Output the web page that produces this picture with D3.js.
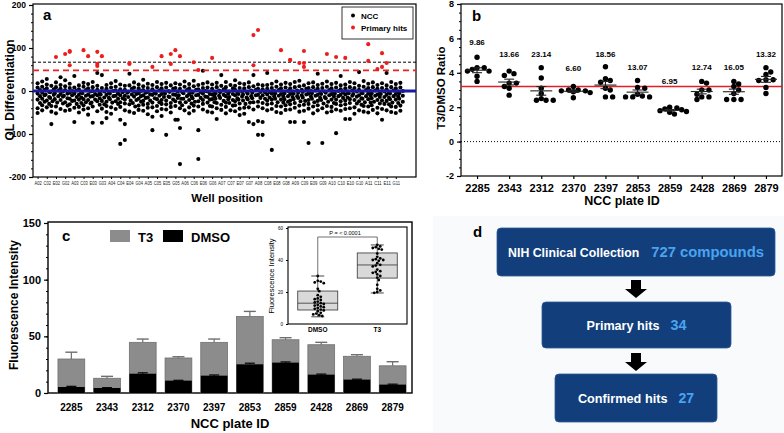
<!DOCTYPE html>
<html><head><meta charset="utf-8">
<script src="https://cdn.jsdelivr.net/npm/d3@7"></script>
<style>body{margin:0;background:#fff} text{font-family:"Liberation Sans",Arial,Helvetica,sans-serif}</style>
</head><body><svg id="fig" width="784" height="433"></svg>
<script>
// ================= DATA =================
// Panel a: well-position labels (every 2nd well) and OL differentiation per well (one value per plate)
const wellLabels = ["A02","C02","E02","G02","A03","C03","E03","G03","A04","C04","E04","G04","A05","C05","E05","G05","A06","C06","E06","G06","A07","C07","E07","G07","A08","C08","E08","G08","A09","C09","E09","G09","A10","C10","E10","G10","A11","C11","E11","G11"];
const nccValues = [
[-51,18,8,2,-6,-12,-20,-28,-40],[22,10,3,-4,-10,-18,-25,-33,-45],[15,6,-2,-8,-14,-22,-30,-38,28],[-77,12,4,-3,-9,-16,-24,-35,-48],
[20,9,1,-5,-12,-19,-27,-36,-52],[14,5,-1,-7,-13,-21,-29,-42,32],[25,11,2,-6,-11,-17,-26,-34,-46],[17,7,0,-4,-10,-18,-23,-31,-44],
[-72,35,8,1,-6,-14,-22,-30,-39],[13,4,-3,-9,-15,-20,-28,-37,-50],[19,10,2,-5,-11,-19,-26,-33,-43],[16,6,-1,-8,-13,-21,-29,-40,-55],
[-74,21,9,0,-7,-12,-20,-27,-36],[42,12,3,-4,-10,-17,-24,-32,-47],[-74,37,7,-1,-8,-15,-23,-31,-41],[-63,14,5,-2,-9,-16,-25,-35,-49],
[18,8,0,-6,-12,-19,-27,-38,-53],[23,10,1,-5,-11,-18,-24,-30,-42],[-123,-67,15,4,-3,-10,-17,-26,-37],[-114,-77,12,3,-4,-11,-20,-29,-45],
[40,13,5,-2,-8,-14,-22,-31,-48],[20,8,-1,-7,-13,-21,-28,-36,-51],[15,6,0,-5,-12,-18,-25,-34,-44],[26,11,2,-4,-10,-16,-23,-32,-46],
[17,7,-2,-8,-15,-22,-30,-39,-54],[-91,-60,14,4,-3,-9,-17,-27,-38],[21,9,1,-6,-11,-19,-26,-35,-47],[-58,16,6,-1,-7,-14,-21,-30,-42],
[-102,19,8,0,-6,-13,-22,-31,-43],[13,5,-2,-8,-14,-20,-28,-37,-50],[-67,-67,18,7,-1,-9,-16,-24,-35],[-170,-86,15,5,-3,-10,-18,-27,-40],
[22,10,2,-5,-12,-18,-26,-33,-45],[16,6,-1,-7,-13,-21,-29,-38,-52],[24,11,3,-4,-10,-17,-25,-34,-46],[-91,-158,14,4,-2,-9,-16,-24,-36],
[47,17,7,0,-6,-13,-21,-30,-43],[20,8,-1,-7,-14,-20,-27,-35,-48],[15,5,-2,-8,-12,-19,-26,-36,-50],[-65,19,9,1,-5,-11,-18,-28,-40],
[37,12,4,-3,-9,-16,-23,-32,-44],[21,9,0,-6,-12,-19,-27,-37,-52],[14,6,-1,-7,-14,-21,-28,-34,-45],[25,12,3,-4,-10,-17,-24,-33,-47],
[-56,18,7,-1,-7,-13,-20,-29,-41],[16,6,-2,-8,-15,-22,-30,-39,-53],[-72,20,9,1,-6,-12,-19,-27,-38],[-77,37,11,3,-4,-10,-17,-26,-43],
[-70,-102,15,5,-2,-9,-16,-25,-36],[-72,-102,13,4,-3,-10,-18,-28,-40],[42,14,5,-2,-8,-15,-22,-31,-45],[-137,17,7,0,-6,-12,-20,-29,-42],
[22,10,2,-5,-11,-18,-26,-35,-49],[15,6,-1,-7,-13,-20,-27,-36,-51],[19,8,0,-5,-12,-19,-25,-33,-44],[-72,16,6,-1,-7,-14,-22,-31,-43],
[-72,21,9,1,-6,-12,-19,-28,-39],[24,11,3,-4,-10,-16,-24,-34,-48],[-72,13,5,-2,-8,-15,-23,-32,-46],[-121,18,7,0,-6,-13,-21,-30,-41],
[20,9,1,-5,-11,-18,-26,-36,-52],[40,14,5,-2,-9,-16,-23,-33,-45],[-121,17,7,-1,-7,-14,-21,-29,-40],[22,10,2,-4,-10,-17,-25,-35,-50],
[16,6,-1,-7,-13,-20,-28,-37,-47],[-98,19,8,0,-6,-12,-20,-30,-43],[35,13,4,-3,-9,-16,-24,-33,-46],[-65,15,6,-1,-8,-15,-22,-31,-42],
[-65,21,9,1,-5,-11,-19,-28,-40],[18,7,-1,-7,-13,-21,-29,-38,-53],[44,12,3,-4,-10,-17,-24,-32,-45],[23,10,2,-5,-12,-18,-26,-35,-48],
[17,7,0,-6,-11,-19,-27,-36,-50],[20,9,1,-5,-11,-17,-25,-33,-44],[14,5,-2,-8,-14,-21,-29,-39,-52],[-67,18,7,-1,-7,-14,-22,-30,-42],
[42,13,4,-3,-9,-16,-23,-31,-45],[21,9,1,-6,-12,-19,-27,-36,-49],[16,6,-1,-7,-13,-20,-28,-37,-51],[19,8,0,-5,-11,-18,-25,-34,-46]
];
const hitWells  = [4,6,7,7,7,10,11,13,14,13,13,20,20,25,27,29,30,29,31,34,35,38,47,48,47,53,55,55,57,58,58,58,63,65,67,72,72,75,74,75,76];
const hitValues = [79,86,93,91,60,95,81,91,81,63,58,63,65,56,81,86,95,63,81,67,49,77,130,142,60,95,72,72,65,56,93,65,86,79,77,109,70,88,51,56,65];
const cutoffs = [67, 48]; // black dashed, red dashed

// Panel b
const plateIDs = ["2285","2343","2312","2370","2397","2853","2859","2428","2869","2879"];
const ratioValues = [
[4.3,4.1,4.9,4.2,4.3,3.5,3.8,4.1],
[4.1,3.85,3.95,3.4,3.2,3.1,2.7,3.4],
[4.3,3.7,3.1,2.8,2.4,2.4,2.4,2.5],
[3.2,2.95,2.9,3.0,2.55,2.85,3.0,2.95],
[4.35,3.55,3.45,3.65,3.0,2.6,2.6,3.1],
[3.55,3.15,3.1,2.75,2.6,2.6,2.6,2.65],
[1.95,1.85,1.75,2.0,1.7,1.6,1.8,1.9],
[3.5,3.4,3.0,3.0,2.6,2.45,2.6,2.75],
[3.5,3.35,3.2,3.0,2.8,2.45,2.45,2.45],
[4.3,4.05,3.9,3.6,3.6,3.15,2.8,3.55]
];
const ratioLabels = ["9.86","13.66","23.14","6.60","18.56","13.07","6.95","12.74","16.05","13.32"];
const ratioLabelLevel = [5.8,5.1,5.1,4.3,5.1,4.35,3.5,4.35,4.35,5.1];
const ratioRefLine = 3.2;

// Panel c
const t3Means   = [30,13,44.7,30.9,44.7,67.6,47,42.6,32.4,24];
const t3Err     = [6,1.7,2.9,1.1,2.9,4.4,1.8,2.1,1.4,3.6];
const dmsoMeans = [5.3,4.4,17,10.9,15.3,25.3,26.8,16.2,11.8,7.4];
const dmsoErr   = [0.6,0.3,0.8,0.3,0.6,1,0.6,0.5,0.4,0.4];
// inset
const insetGroups = ["DMSO","T3"];
const insetDMSO = [30,27,26.5,26,25.5,22,20.5,18,17,16,15.5,15,14,13.5,13,12.5,12,11.5,11,10.5,10,9.5,9,8.5,8,7,6.5,6,5.5,5];
const insetT3 = [49.5,48.5,48,47.5,47,46.5,44,42,41,40.5,40,40,39.5,38,37,36.5,36,34,33,32.5,32,31,30,29,27.5,24.5,22,21,20,19.5];
const insetBoxDMSO = [4.5,8.75,13,20.6,30];   // min,q1,median,q3,max
const insetBoxT3   = [19.4,28.7,36.9,44.4,49.4];

// Panel d
const flowLabels = ["NIH Clinical Collection","Primary hits","Confirmed hits"];
const flowCounts = ["727 compounds","34","27"];

// ================= DRAW =================
const svg = d3.select("#fig");
const F = '"Liberation Sans",Arial,sans-serif';
function txt(g, x, y, s, size, opt={}) {
  return g.append("text").attr("x",x).attr("y",y).text(s)
    .attr("font-size",size).attr("font-weight",opt.w||"bold")
    .attr("text-anchor",opt.a||"start").attr("fill",opt.fill||"#000");
}
function swarm(values, ys, r, step) {
  const pts = values.map(v=>({v, y:ys(v), dx:0}));
  const order = pts.slice().sort((a,b)=>a.y-b.y);
  const placed = [];
  for (const p of order) {
    for (let k=0;k<60;k++){
      const off = (k%2?1:-1)*Math.ceil(k/2)*step;
      if (placed.every(q=>Math.hypot(q.dx-off,q.y-p.y)>=2*r*0.92)) { p.dx=off; break; }
    }
    placed.push(p);
  }
  return pts;
}
function styleAxis(g, size){
  g.selectAll("path,line").attr("stroke","#000").attr("stroke-width",1.2);
  g.selectAll("text").attr("font-size",size).attr("font-weight","bold").attr("font-family",F).attr("fill","#000");
}

// light background behind panel d
svg.append("rect").attr("x",433).attr("y",216).attr("width",351).attr("height",217).attr("fill","#f8fafc");

// ---------- Panel a ----------
{
  const g = svg.append("g");
  const x = d3.scaleLinear().domain([-1,82.4]).range([33,416]);
  const y = d3.scaleLinear().domain([-200,200]).range([177,5]);
  g.append("rect").attr("x",33).attr("y",4).attr("width",383).attr("height",173).attr("fill","none").attr("stroke","#000").attr("stroke-width",1.2);
  const pts = [];
  nccValues.forEach((arr,i)=>{
    swarm(arr,y,2.1,1.2).forEach(p=>pts.push([x(i)+Math.max(-2.4,Math.min(2.4,p.dx)),p.y]));
  });
  g.selectAll("circle.ncc").data(pts).join("circle").attr("class","ncc")
    .attr("cx",d=>d[0]).attr("cy",d=>d[1]).attr("r",2.05).attr("fill","#000");
  g.append("line").attr("x1",33).attr("x2",416).attr("y1",y(cutoffs[0])).attr("y2",y(cutoffs[0]))
    .attr("stroke","#000").attr("stroke-width",1).attr("stroke-dasharray","3,2");
  g.append("line").attr("x1",33).attr("x2",416).attr("y1",y(cutoffs[1])).attr("y2",y(cutoffs[1]))
    .attr("stroke","#e8231f").attr("stroke-width",1.6).attr("stroke-dasharray","6,4");
  g.append("line").attr("x1",33).attr("x2",416).attr("y1",y(0)).attr("y2",y(0))
    .attr("stroke","#1a1aa8").attr("stroke-width",3);
  g.selectAll("circle.hit").data(hitWells.map((w,i)=>[w,hitValues[i]])).join("circle").attr("class","hit")
    .attr("cx",d=>x(d[0])).attr("cy",d=>y(d[1])).attr("r",2.05).attr("fill","#ee1d1d");
  // axes
  const ya = g.append("g").attr("transform","translate(33,0)")
    .call(d3.axisLeft(y).tickValues([-200,-100,0,100,200]).tickSize(4).tickFormat(d=>String(d)));
  styleAxis(ya, 8.5); ya.select(".domain").remove();
  const ym = g.append("g").attr("transform","translate(33,0)")
    .call(d3.axisLeft(y).tickValues(d3.range(-200,201,20)).tickSize(2).tickFormat(""));
  ym.selectAll("line").attr("stroke","#000"); ym.select(".domain").remove();
  const xa = g.append("g").attr("transform","translate(0,177)")
    .call(d3.axisBottom(x).tickValues(wellLabels.map((_,k)=>2*k)).tickSize(2).tickFormat((d,k)=>wellLabels[k]));
  xa.select(".domain").remove();
  xa.selectAll("line").attr("stroke","#000");
  xa.selectAll("text").attr("font-size",5.2).attr("font-family",F).attr("fill","#222").attr("dy","0.5em")
    .attr("textLength",7.4).attr("lengthAdjust","spacingAndGlyphs");
  // labels
  txt(g,43,20,"a",15);
  txt(g,0,0,"OL Differentiation",12,{a:"middle"}).attr("transform","translate(14,90) rotate(-90)");
  txt(g,227,202,"Well position",11.5,{a:"middle"});
  // legend
  g.append("rect").attr("x",342).attr("y",7).attr("width",71).attr("height",32).attr("fill","#fff").attr("stroke","#000").attr("stroke-width",0.8);
  g.append("circle").attr("cx",353).attr("cy",15.5).attr("r",2).attr("fill","#000");
  g.append("circle").attr("cx",353).attr("cy",27.5).attr("r",2).attr("fill","#ee1d1d");
  txt(g,361,18.5,"NCC",8);
  txt(g,361,31,"Primary hits",8);
}

// ---------- Panel b ----------
{
  const g = svg.append("g");
  const x = d3.scalePoint().domain(plateIDs).range([461,782]).padding(0.5);
  const y = d3.scaleLinear().domain([-2,8]).range([176,4]);
  g.append("rect").attr("x",461).attr("y",4).attr("width",321).attr("height",172).attr("fill","none").attr("stroke","#000").attr("stroke-width",1.2);
  g.append("line").attr("x1",461).attr("x2",782).attr("y1",y(0)).attr("y2",y(0)).attr("stroke","#000").attr("stroke-width",1).attr("stroke-dasharray","1,2");
  g.append("line").attr("x1",461).attr("x2",782).attr("y1",y(ratioRefLine)).attr("y2",y(ratioRefLine)).attr("stroke","#e31e24").attr("stroke-width",1.6);
  plateIDs.forEach((p,i)=>{
    const vals = ratioValues[i];
    const cx = x(p);
    const pts = swarm(vals,y,2.7,2.4);
    g.selectAll(null).data(pts).join("circle").attr("cx",d=>cx+d.dx).attr("cy",d=>d.y).attr("r",2.7).attr("fill","#000");
    const m = d3.mean(vals), sem = d3.deviation(vals)/Math.sqrt(vals.length);
    g.append("line").attr("x1",cx-11).attr("x2",cx+11).attr("y1",y(m)).attr("y2",y(m)).attr("stroke","#222").attr("stroke-width",1.1);
    g.append("line").attr("x1",cx).attr("x2",cx).attr("y1",y(m+sem)).attr("y2",y(m-sem)).attr("stroke","#222").attr("stroke-width",1.1);
    [m+sem,m-sem].forEach(v=>g.append("line").attr("x1",cx-5).attr("x2",cx+5).attr("y1",y(v)).attr("y2",y(v)).attr("stroke","#222").attr("stroke-width",1.1));
    txt(g,cx,y(ratioLabelLevel[i])+3,ratioLabels[i],8,{a:"middle"});
  });
  const ya = g.append("g").attr("transform","translate(461,0)")
    .call(d3.axisLeft(y).tickValues([-2,0,2,4,6,8]).tickSize(4).tickFormat(d=>String(d)));
  styleAxis(ya,9); ya.select(".domain").remove();
  const ym = g.append("g").attr("transform","translate(461,0)")
    .call(d3.axisLeft(y).tickValues(d3.range(-2,8.01,0.5)).tickSize(2).tickFormat(""));
  ym.selectAll("line").attr("stroke","#000"); ym.select(".domain").remove();
  const xa = g.append("g").attr("transform","translate(0,176)").call(d3.axisBottom(x).tickSize(3));
  styleAxis(xa,11); xa.select(".domain").remove();
  xa.selectAll("text").attr("dy","0.95em");
  txt(g,472,21,"b",15);
  txt(g,0,0,"T3/DMSO Ratio",11.5,{a:"middle"}).attr("transform","translate(445,88) rotate(-90)");
  txt(g,622,205,"NCC plate ID",12.5,{a:"middle"});
}

// ---------- Panel c ----------
{
  const g = svg.append("g");
  const x = d3.scaleBand().domain(plateIDs).range([53.5,410.5]).paddingInner(0.25).paddingOuter(0.125);
  const y = d3.scaleLinear().domain([0,150]).range([393,223]);
  g.append("rect").attr("x",48).attr("y",222).attr("width",364).attr("height",171).attr("fill","none").attr("stroke","#000").attr("stroke-width",1.4);
  plateIDs.forEach((p,i)=>{
    const bx = x(p), bw = x.bandwidth(), cx = bx+bw/2;
    g.append("line").attr("x1",cx).attr("x2",cx).attr("y1",y(t3Means[i])).attr("y2",y(t3Means[i]+t3Err[i])).attr("stroke","#6e6e6e").attr("stroke-width",1.2);
    g.append("line").attr("x1",cx-6).attr("x2",cx+6).attr("y1",y(t3Means[i]+t3Err[i])).attr("y2",y(t3Means[i]+t3Err[i])).attr("stroke","#6e6e6e").attr("stroke-width",1.4);
    g.append("rect").attr("x",bx).attr("y",y(t3Means[i])).attr("width",bw).attr("height",y(0)-y(t3Means[i])).attr("fill","#8c8c8c").attr("stroke","#707070").attr("stroke-width",0.8);
    g.append("line").attr("x1",cx-5).attr("x2",cx+5).attr("y1",y(dmsoMeans[i]+dmsoErr[i])).attr("y2",y(dmsoMeans[i]+dmsoErr[i])).attr("stroke","#000").attr("stroke-width",1.2);
    g.append("line").attr("x1",cx).attr("x2",cx).attr("y1",y(dmsoMeans[i])).attr("y2",y(dmsoMeans[i]+dmsoErr[i])).attr("stroke","#000").attr("stroke-width",1.2);
    g.append("rect").attr("x",bx).attr("y",y(dmsoMeans[i])).attr("width",bw).attr("height",y(0)-y(dmsoMeans[i])).attr("fill","#000");
  });
  const ya = g.append("g").attr("transform","translate(48,0)")
    .call(d3.axisLeft(y).tickValues([0,50,100,150]).tickSize(4).tickFormat(d=>String(d)));
  styleAxis(ya,11); ya.select(".domain").remove();
  const ym = g.append("g").attr("transform","translate(48,0)")
    .call(d3.axisLeft(y).tickValues(d3.range(0,151,10)).tickSize(2).tickFormat(""));
  ym.selectAll("line").attr("stroke","#000"); ym.select(".domain").remove();
  const xa = g.append("g").attr("transform","translate(0,393)").call(d3.axisBottom(x).tickSize(0));
  styleAxis(xa,10); xa.select(".domain").remove();
  xa.selectAll("text").attr("dy","1.45em");
  txt(g,62,241,"c",15);
  txt(g,0,0,"Fluorescence Intensity",12,{a:"middle"}).attr("transform","translate(18,305) rotate(-90)");
  txt(g,230,428,"NCC plate ID",13,{a:"middle"});
  // legend
  g.append("rect").attr("x",110).attr("y",230).attr("width",20).attr("height",12).attr("fill","#8c8c8c");
  txt(g,138,242,"T3",13);
  g.append("rect").attr("x",163).attr("y",230).attr("width",20).attr("height",12).attr("fill","#000");
  txt(g,191,242,"DMSO",13);

  // inset
  const ix = d3.scalePoint().domain(insetGroups).range([288,407]).padding(0.5);
  const iy = d3.scaleLinear().domain([0,60]).range([324,228]);
  const ig = g.append("g");
  ig.append("rect").attr("x",288).attr("y",227).attr("width",119).attr("height",97).attr("fill","#fff").attr("stroke","#000").attr("stroke-width",1.1);
  [[insetBoxDMSO,insetDMSO],[insetBoxT3,insetT3]].forEach(([bs,vals],k)=>{
    const cx = ix(insetGroups[k]);
    ig.append("line").attr("x1",cx).attr("x2",cx).attr("y1",iy(bs[0])).attr("y2",iy(bs[4])).attr("stroke","#333").attr("stroke-width",0.8);
    [bs[0],bs[4]].forEach(v=>ig.append("line").attr("x1",cx-6.5).attr("x2",cx+6.5).attr("y1",iy(v)).attr("y2",iy(v)).attr("stroke","#333").attr("stroke-width",0.9));
    ig.append("rect").attr("x",cx-20).attr("y",iy(bs[3])).attr("width",40).attr("height",iy(bs[1])-iy(bs[3])).attr("fill","#d9d9d9").attr("stroke","#333").attr("stroke-width",0.8);
    ig.append("line").attr("x1",cx-20).attr("x2",cx+20).attr("y1",iy(bs[2])).attr("y2",iy(bs[2])).attr("stroke","#333").attr("stroke-width",0.8);
    const pts = swarm(vals,iy,1.4,1.5);
    ig.selectAll(null).data(pts).join("circle").attr("cx",d=>cx+d.dx).attr("cy",d=>d.y).attr("r",1.4).attr("fill","#000");
  });
  ig.append("path").attr("d",`M${ix("DMSO")},${iy(insetBoxDMSO[4])}V237H${ix("T3")}V${iy(insetBoxT3[4])}`).attr("fill","none").attr("stroke","#333").attr("stroke-width",0.7);
  txt(ig,345,235,"P = < 0.0001",5.5,{a:"middle",w:"normal"});
  const iya = ig.append("g").attr("transform","translate(288,0)")
    .call(d3.axisLeft(iy).tickValues([0,20,40,60]).tickSize(2).tickFormat(d=>String(d)));
  iya.select(".domain").remove(); iya.selectAll("line").attr("stroke","#000");
  iya.selectAll("text").attr("font-size",4.5).attr("font-family",F).attr("fill","#000");
  txt(ig,ix("DMSO"),332,"DMSO",6.5,{a:"middle"});
  txt(ig,ix("T3"),332,"T3",6.5,{a:"middle"});
  txt(ig,0,0,"Fluorescence Intensity",7.5,{a:"middle",w:"normal"}).attr("transform","translate(274,276) rotate(-90)");
}

// ---------- Panel d ----------
{
  const g = svg.append("g");
  const boxes = [[497,228,278,48],[542,302,189,46],[555,374,162,48]];
  const col = "#123f7c", blue = "#4aa3f0";
  const lsize = [12.3,12.6,12.7], csize = [14.8,14.4,14];
  boxes.forEach((b,i)=>{
    g.append("rect").attr("x",b[0]).attr("y",b[1]).attr("width",b[2]).attr("height",b[3]).attr("rx",4).attr("fill",col).attr("stroke","#2c5a94").attr("stroke-width",0.8);
    const t = g.append("text").attr("x",b[0]+b[2]/2).attr("y",b[1]+b[3]/2+5).attr("text-anchor","middle").attr("font-weight","bold");
    t.append("tspan").text(flowLabels[i]).attr("fill","#fff").attr("font-size",lsize[i]);
    t.append("tspan").text(flowCounts[i]).attr("fill",blue).attr("font-size",csize[i]).attr("dx",i===0?12:11);
  });
  [[280,298],[353,371]].forEach(([y0,y1])=>{
    const cx = 636, mid = y0+(y1-y0)*0.5;
    g.append("path").attr("d",`M${cx-5},${y0}H${cx+5}V${mid}H${cx+11}L${cx},${y1}L${cx-11},${mid}H${cx-5}Z`).attr("fill","#000");
  });
  txt(g,473,237,"d",15);
}
</script></body></html>
